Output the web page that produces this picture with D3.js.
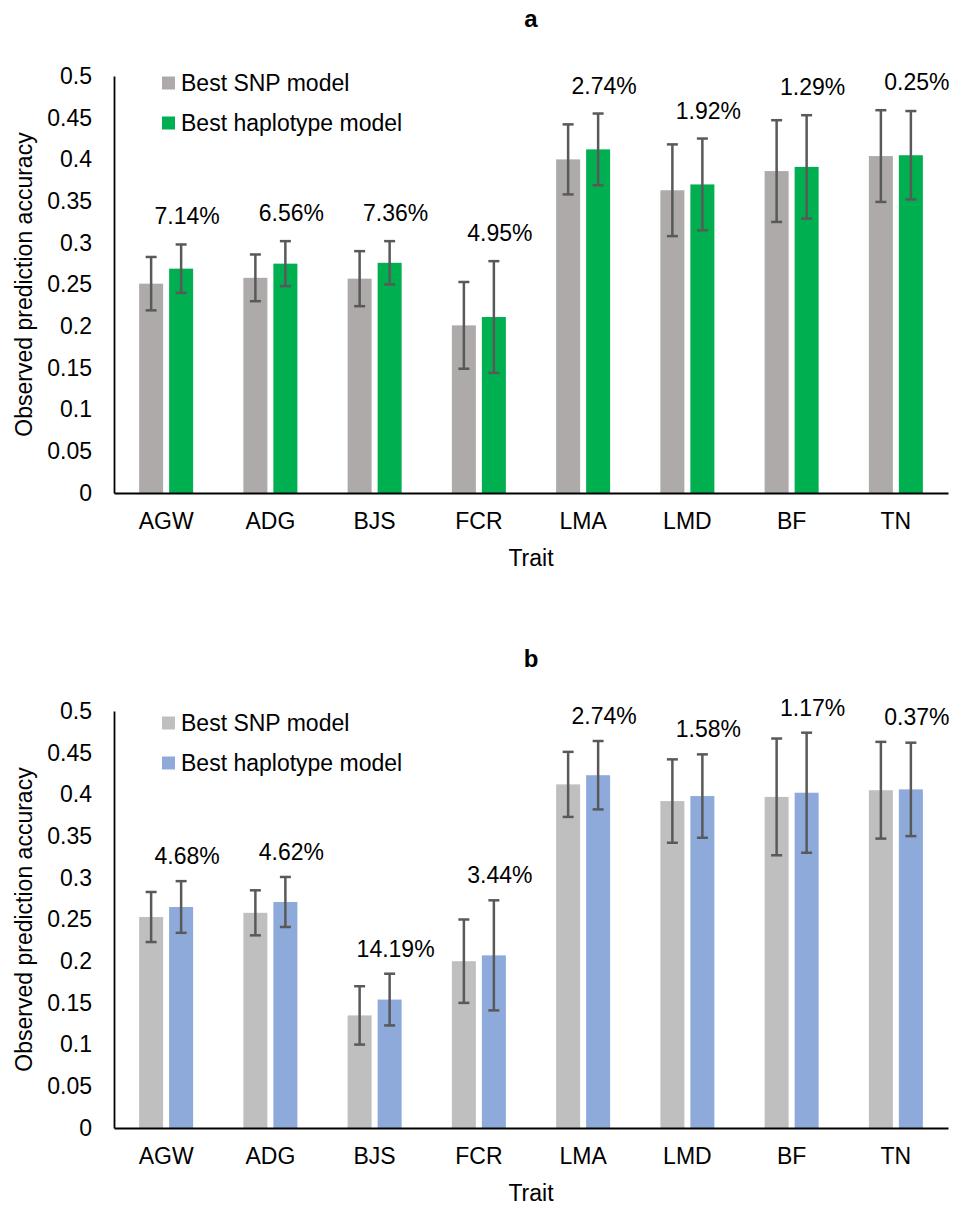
<!DOCTYPE html>
<html>
<head>
<meta charset="utf-8">
<script src="https://cdn.jsdelivr.net/npm/d3@7"></script>
<style>
  html, body { margin: 0; padding: 0; background: #ffffff; }
  svg { display: block; font-family: "Liberation Sans", Arial, sans-serif; }
</style>
</head>
<body>
<svg id="chart" width="955" height="1206"></svg>
<script>
// Traits on the x axis
const traits = ["AGW", "ADG", "BJS", "FCR", "LMA", "LMD", "BF", "TN"];
const seriesNames = ["Best SNP model", "Best haplotype model"];

// Panel a: accuracies, error half-widths and relative gains
const snpA    = [0.251, 0.258, 0.257, 0.201, 0.400, 0.363, 0.386, 0.404];
const hapA    = [0.269, 0.275, 0.276, 0.211, 0.412, 0.370, 0.391, 0.405];
const snpErrA = [0.032, 0.028, 0.033, 0.052, 0.042, 0.055, 0.061, 0.055];
const hapErrA = [0.029, 0.027, 0.026, 0.067, 0.043, 0.055, 0.062, 0.053];
const gainA   = ["7.14%", "6.56%", "7.36%", "4.95%", "2.74%", "1.92%", "1.29%", "0.25%"];

// Panel b
const snpB    = [0.253, 0.258, 0.135, 0.200, 0.412, 0.392, 0.397, 0.405];
const hapB    = [0.265, 0.271, 0.154, 0.207, 0.423, 0.398, 0.402, 0.406];
const snpErrB = [0.030, 0.027, 0.035, 0.050, 0.039, 0.050, 0.070, 0.058];
const hapErrB = [0.031, 0.030, 0.031, 0.066, 0.041, 0.050, 0.072, 0.056];
const gainB   = ["4.68%", "4.62%", "14.19%", "3.44%", "2.74%", "1.58%", "1.17%", "0.37%"];

// Y axis ticks
const yTicks = [0, 0.05, 0.1, 0.15, 0.2, 0.25, 0.3, 0.35, 0.4, 0.45, 0.5];
const yTickLabels = ["0", "0.05", "0.1", "0.15", "0.2", "0.25", "0.3", "0.35", "0.4", "0.45", "0.5"];

const svg = d3.select("#chart");
const FONT = 23;

function drawPanel(p) {
  const left = 114, right = 948;
  const g = svg.append("g");

  const y = d3.scaleLinear().domain([0, 0.5]).range([p.y0, p.y0 - 417]);
  const x0 = d3.scaleBand().domain(traits).range([left, right]).padding(0);
  const x1 = d3.scaleBand().domain([0, 1])
    .range([x0.bandwidth() / 2 - 27, x0.bandwidth() / 2 + 27])
    .paddingInner(0.2).paddingOuter(0);

  const rows = traits.map((t, i) => ({
    trait: t,
    vals: [
      { s: 0, v: p.snp[i], e: p.snpErr[i] },
      { s: 1, v: p.hap[i], e: p.hapErr[i] }
    ],
    gain: p.gain[i]
  }));

  // bars
  const grp = g.selectAll("g.grp").data(rows).enter().append("g")
    .attr("class", "grp")
    .attr("transform", d => `translate(${x0(d.trait)},0)`);

  grp.selectAll("rect").data(d => d.vals).enter().append("rect")
    .attr("x", d => x1(d.s))
    .attr("width", x1.bandwidth())
    .attr("y", d => y(d.v))
    .attr("height", d => y(0) - y(d.v))
    .attr("fill", d => p.colors[d.s]);

  // error bars
  const eb = grp.selectAll("g.err").data(d => d.vals).enter().append("g")
    .attr("class", "err")
    .attr("stroke", "#595959")
    .attr("stroke-width", 2.5);
  eb.append("line")
    .attr("x1", d => x1(d.s) + x1.bandwidth() / 2)
    .attr("x2", d => x1(d.s) + x1.bandwidth() / 2)
    .attr("y1", d => y(d.v + d.e))
    .attr("y2", d => y(d.v - d.e));
  [1, -1].forEach(sign => {
    eb.append("line")
      .attr("x1", d => x1(d.s) + x1.bandwidth() / 2 - 5.5)
      .attr("x2", d => x1(d.s) + x1.bandwidth() / 2 + 5.5)
      .attr("y1", d => y(d.v + sign * d.e))
      .attr("y2", d => y(d.v + sign * d.e));
  });

  // gain labels above each pair
  grp.append("text")
    .attr("x", x1(1) + x1.bandwidth() / 2 + 6)
    .attr("y", d => y(d3.max(d.vals, v => v.v + v.e)) - p.labelGap)
    .attr("text-anchor", "middle")
    .attr("dominant-baseline", "central")
    .attr("font-size", FONT)
    .attr("fill", "#000")
    .text(d => d.gain);

  // y axis
  const yAxis = d3.axisLeft(y).tickValues(yTicks)
    .tickFormat((d, i) => yTickLabels[i]).tickSize(0).tickPadding(22);
  const ya = g.append("g").attr("transform", `translate(${left},0)`).call(yAxis);
  ya.select(".domain").attr("stroke", "#000").attr("stroke-width", 1.8);
  ya.selectAll("text").attr("font-size", FONT).attr("fill", "#000")
    .attr("font-family", "Liberation Sans, Arial, sans-serif");

  // x axis
  const xAxis = d3.axisBottom(x0).tickSize(0).tickPadding(20);
  const xa = g.append("g").attr("transform", `translate(0,${y(0)})`).call(xAxis);
  xa.select(".domain").attr("stroke", "#000").attr("stroke-width", 1.8);
  xa.selectAll("text").attr("font-size", FONT).attr("fill", "#000")
    .attr("font-family", "Liberation Sans, Arial, sans-serif");

  // axis titles
  g.append("text")
    .attr("x", (left + right) / 2).attr("y", y(0) + 65)
    .attr("text-anchor", "middle").attr("dominant-baseline", "central")
    .attr("font-size", FONT).text("Trait");
  g.append("text")
    .attr("transform", `translate(24,${(y(0) + y(0.5)) / 2}) rotate(-90)`)
    .attr("text-anchor", "middle").attr("dominant-baseline", "central")
    .attr("font-size", FONT).text("Observed prediction accuracy");

  // panel title
  g.append("text")
    .attr("x", (left + right) / 2).attr("y", p.titleY)
    .attr("text-anchor", "middle").attr("dominant-baseline", "central")
    .attr("font-size", 24).attr("font-weight", "bold").text(p.title);

  // legend
  const lg = g.selectAll("g.leg").data(seriesNames).enter().append("g")
    .attr("class", "leg")
    .attr("transform", (d, i) => `translate(162,${p.legendY + i * 40})`);
  lg.append("rect").attr("x", 0).attr("y", -6.5).attr("width", 13).attr("height", 13)
    .attr("fill", (d, i) => p.colors[i]);
  lg.append("text").attr("x", 19).attr("y", 0)
    .attr("dominant-baseline", "central")
    .attr("font-size", FONT).text(d => d);
}

drawPanel({
  title: "a", titleY: 18, y0: 493, legendY: 83, labelGap: 28,
  snp: snpA, hap: hapA, snpErr: snpErrA, hapErr: hapErrA, gain: gainA,
  colors: ["#AEAAAA", "#00B050"]
});
drawPanel({
  title: "b", titleY: 658, y0: 1128, legendY: 723, labelGap: 25,
  snp: snpB, hap: hapB, snpErr: snpErrB, hapErr: hapErrB, gain: gainB,
  colors: ["#BFBFBF", "#8EAADB"]
});
</script>
</body>
</html>
